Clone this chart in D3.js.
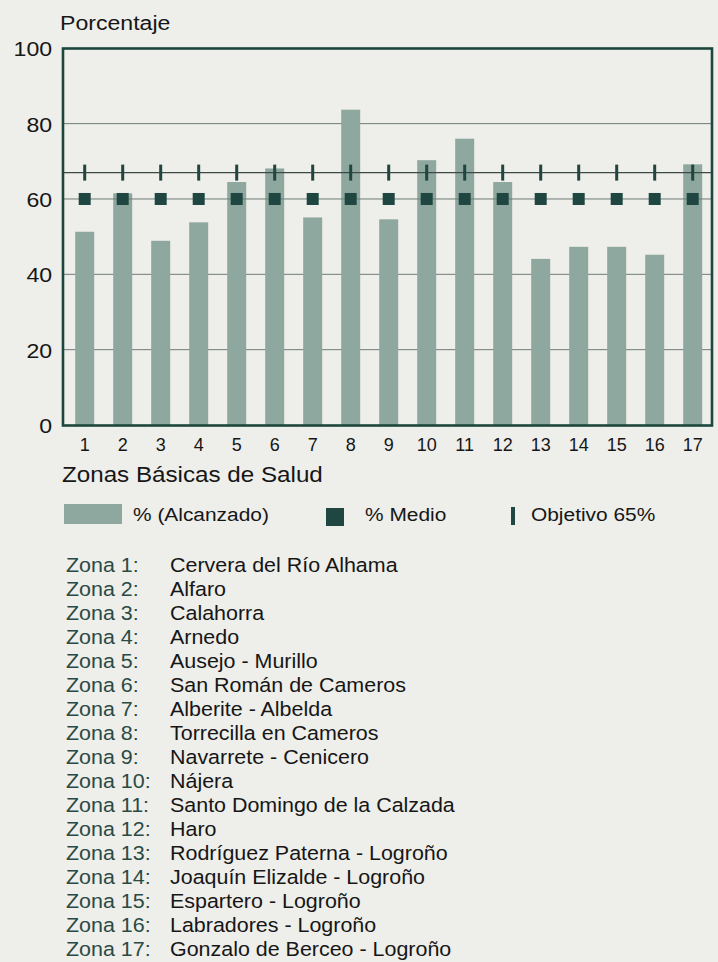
<!DOCTYPE html>
<html lang="es">
<head>
<meta charset="UTF-8">
<title>Porcentaje alcanzado por Zonas Básicas de Salud</title>
<style>
    body { margin: 0; background: #eeeeea; }
    svg { display: block; font-family: "Liberation Sans", Arial, sans-serif; }
    .grid { stroke: #6f7b78; stroke-width: 1; }
    .bar { fill: #8fa89f; }
    .medio { fill: #1f4640; }
    .obj { fill: #1f4640; }
</style>
</head>
<body>
<svg id="chart" width="718" height="962"></svg>
<script src="https://d3js.org/d3.v7.min.js"></script>
<script>
const zonas = ['1', '2', '3', '4', '5', '6', '7', '8', '9', '10', '11', '12', '13', '14', '15', '16', '17'];
const alcanzado = [51.3, 61.5, 48.9, 53.8, 64.5, 68.1, 55.1, 83.7, 54.6, 70.3, 76.0, 64.5, 44.1, 47.3, 47.3, 45.2, 69.2];
const medio = [60, 60, 60, 60, 60, 60, 60, 60, 60, 60, 60, 60, 60, 60, 60, 60, 60];
const objetivo = [67, 67, 67, 67, 67, 67, 67, 67, 67, 67, 67, 67, 67, 67, 67, 67, 67];
const yTicks = [0, 20, 40, 60, 80, 100];
const nombres = [
    'Cervera del Río Alhama', 'Alfaro', 'Calahorra', 'Arnedo', 'Ausejo - Murillo',
    'San Román de Cameros', 'Alberite - Albelda', 'Torrecilla en Cameros',
    'Navarrete - Cenicero', 'Nájera', 'Santo Domingo de la Calzada', 'Haro',
    'Rodríguez Paterna - Logroño', 'Joaquín Elizalde - Logroño', 'Espartero - Logroño',
    'Labradores - Logroño', 'Gonzalo de Berceo - Logroño'
];
const leyenda = ['% (Alcanzado)', '% Medio', 'Objetivo 65%'];

const svg = d3.select('#chart');
svg.append('rect').attr('width', 718).attr('height', 962).attr('fill', '#eeeeea');

const x = d3.scaleBand().domain(zonas).range([65.7, 711.7]).paddingInner(0.5).paddingOuter(0.25);
const y = d3.scaleLinear().domain([0, 100]).range([425, 48.3]);

// el texto del original sale algo ensanchado
function texto(g, px, py, s, size) {
    return g.append('text')
        .attr('transform', `translate(${px},${py}) scale(1.1,1)`)
        .attr('font-size', size)
        .attr('fill', '#161616')
        .text(s);
}

// rejilla por detrás de las barras
svg.append('g')
    .selectAll('line')
    .data(yTicks.filter(t => t > 0 && t < 100 && t !== 60))
    .enter().append('line')
    .attr('class', 'grid')
    .attr('x1', 63).attr('x2', 712)
    .attr('y1', d => y(d)).attr('y2', d => y(d));

svg.append('g')
    .selectAll('rect')
    .data(alcanzado)
    .enter().append('rect')
    .attr('class', 'bar')
    .attr('x', (d, i) => x(zonas[i]))
    .attr('width', x.bandwidth())
    .attr('y', d => y(d))
    .attr('height', d => y(0) - y(d));

// líneas de media y objetivo
svg.append('line').attr('class', 'grid')
    .attr('x1', 63).attr('x2', 712)
    .attr('y1', y(d3.mean(medio))).attr('y2', y(d3.mean(medio)));
svg.append('line')
    .attr('stroke', '#3c4a46').attr('stroke-width', 1.3)
    .attr('x1', 63).attr('x2', 712)
    .attr('y1', y(d3.mean(objetivo))).attr('y2', y(d3.mean(objetivo)));

svg.append('g')
    .selectAll('rect')
    .data(medio)
    .enter().append('rect')
    .attr('class', 'medio')
    .attr('x', (d, i) => x(zonas[i]) + x.bandwidth() / 2 - 6)
    .attr('y', d => y(d) - 6)
    .attr('width', 12).attr('height', 12);

svg.append('g')
    .selectAll('rect')
    .data(objetivo)
    .enter().append('rect')
    .attr('class', 'obj')
    .attr('x', (d, i) => x(zonas[i]) + x.bandwidth() / 2 - 1.5)
    .attr('y', d => y(d) - 8)
    .attr('width', 3).attr('height', 16);

// marco
svg.append('rect')
    .attr('x', 63).attr('y', 48.5)
    .attr('width', 649).attr('height', 377)
    .attr('fill', 'none')
    .attr('stroke', '#1d463c')
    .attr('stroke-width', 2.6);

// ejes
const yAxis = svg.append('g')
    .attr('transform', 'translate(62,0)')
    .call(d3.axisLeft(y).tickValues(yTicks).tickSize(0).tickPadding(9));
yAxis.select('.domain').remove();
yAxis.selectAll('text')
    .attr('font-size', 21)
    .attr('font-family', '"Liberation Sans", Arial, sans-serif')
    .attr('fill', '#161616')
    .attr('dy', '0.36em')
    .attr('transform', 'scale(1.1,1)');

const xAxis = svg.append('g')
    .attr('transform', 'translate(0,425)')
    .call(d3.axisBottom(x).tickSize(0));
xAxis.select('.domain').remove();
xAxis.selectAll('text')
    .attr('font-size', 18)
    .attr('font-family', '"Liberation Sans", Arial, sans-serif')
    .attr('fill', '#161616')
    .attr('y', 26)
    .attr('dy', 0);

texto(svg, 60, 30, 'Porcentaje', 21);
texto(svg, 62, 482, 'Zonas Básicas de Salud', 22);

// leyenda
const ley = svg.append('g');
ley.append('rect').attr('class', 'bar').attr('x', 64).attr('y', 504).attr('width', 58).attr('height', 20);
texto(ley, 133, 521, leyenda[0], 19);
ley.append('rect').attr('class', 'medio').attr('x', 326).attr('y', 508).attr('width', 18).attr('height', 18);
texto(ley, 365, 521, leyenda[1], 19);
ley.append('rect').attr('class', 'obj').attr('x', 511).attr('y', 507).attr('width', 4).attr('height', 18);
texto(ley, 531, 521, leyenda[2], 19);

// lista de zonas
const lista = svg.append('g');
nombres.forEach((n, i) => {
    const by = 572 + i * 24;
    texto(lista, 66, by, `Zona ${zonas[i]}:`, 19.5).attr('fill', '#2a4a44');
    texto(lista, 170, by, n, 19.5);
});
</script>
</body>
</html>
